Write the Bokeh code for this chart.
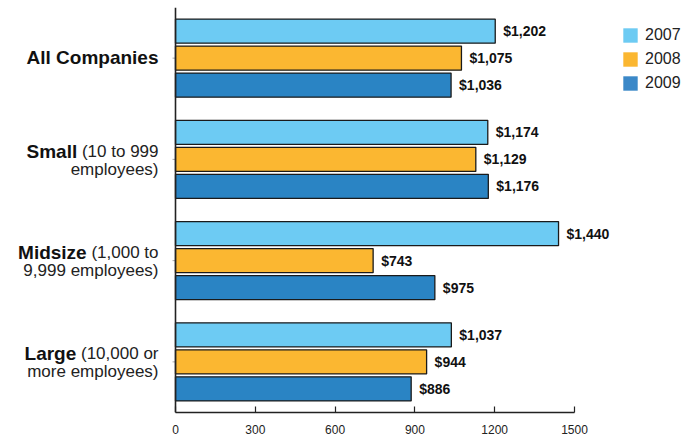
import numpy as np
from bokeh.plotting import figure
from bokeh.models import (Range1d, FixedTicker, LabelSet, ColumnDataSource,
                          Legend, LegendItem, Span)
from bokeh.core.properties import value
from bokeh.embed import file_html
from bokeh.resources import INLINE

# ---- data ----
categories = ["All Companies", "Small", "Midsize", "Large"]
line1_rest = ["", "(10 to 999", "(1,000 to", "(10,000 or"]
line2_text = ["", "employees)", "9,999 employees)", "more employees)"]
years = ["2007", "2008", "2009"]
v2007 = [1202, 1174, 1440, 1037]
v2008 = [1075, 1129, 743, 944]
v2009 = [1036, 1176, 975, 886]
x_ticks = [0, 300, 600, 900, 1200, 1500]

colors = ["#6DCBF3", "#FBB731", "#2A84C4"]
legend_colors = ["#6DCBF3", "#FBB731", "#3B88C8"]

FONT = "Liberation Sans"
W, H = 682, 439
TOP, BOTTOM = 7, 27
PX_PER_UNIT_Y = (H - TOP - BOTTOM) / 4.0
PX_PER_UNIT_X = 399 / 1500.0
X0_PX = 175

p = figure(width=W, height=H, output_backend="svg", toolbar_location=None,
           x_range=Range1d(-X0_PX / PX_PER_UNIT_X, (W - X0_PX) / PX_PER_UNIT_X),
           y_range=Range1d(0, 4), y_axis_location=None,
           min_border_left=0, min_border_right=0, min_border_top=TOP,
           min_border_bottom=BOTTOM)
p.outline_line_color = None
p.xgrid.visible = False
p.ygrid.visible = False
p.background_fill_color = "white"

centers = np.array([3.5, 2.5, 1.5, 0.5])
offsets = [0.267, 0.0, -0.267]
series = [v2007, v2008, v2009]

# y axis line at x = 0, with tiny grey ticks at the group centres
p.add_layout(Span(location=0, dimension="height", line_color="#222222",
                  line_width=1.6))
tick_len = 3 / PX_PER_UNIT_X
p.segment(x0=np.zeros(4) - tick_len, x1=np.zeros(4), y0=centers, y1=centers,
          line_color="#aaaaaa", line_width=1)

for vals, off, col in zip(series, offsets, colors):
    src = ColumnDataSource(dict(y=centers + off, right=vals,
                                lab=[f"${v:,}" for v in vals]))
    p.hbar(y="y", right="right", left=0, height=0.238, source=src,
           fill_color=col, line_color="#1a1a1a", line_width=1.3)
    p.add_layout(LabelSet(x="right", y="y", text="lab", source=src, x_offset=8,
                          text_font=value(FONT), text_font_size="14px",
                          text_font_style="bold", text_color="#111111",
                          text_baseline="middle", text_align="left"))

# legend with outline-free swatches
items = []
for yr, col in zip(years, legend_colors):
    r = p.rect(x=[-5000], y=[-50], width=1, height=1, fill_color=col,
               line_color=None)
    items.append(LegendItem(label=yr, renderers=[r]))
legend = Legend(items=items, location=(621, 320), padding=0, margin=0,
                border_line_color=None, background_fill_alpha=0,
                glyph_width=18, glyph_height=18, label_height=18, spacing=6,
                label_standoff=6, label_text_font=FONT,
                label_text_font_size="16px", label_text_color="#222222")
p.add_layout(legend)

# x axis
xa = p.xaxis[0]
xa.ticker = FixedTicker(ticks=x_ticks)
xa.bounds = (0, 1500)
xa.major_tick_in = 6
xa.major_tick_out = 0
xa.minor_tick_line_color = None
xa.axis_line_width = 1.6
xa.axis_line_color = "#222222"
xa.major_tick_line_color = "#222222"
xa.major_tick_line_width = 1.2
xa.major_label_standoff = 12
xa.major_label_text_font = FONT
xa.major_label_text_font_size = "12px"
xa.major_label_text_color = "#222222"

# category labels (bold name + normal descriptor), drawn as text glyphs
arial_w = {" ": 278, "(": 333, ")": 333, ",": 278, "t": 278, "o": 556, "r": 333,
           "e": 556, "m": 833, "p": 556, "l": 222, "y": 500, "s": 500}
def text_w(s, size):
    return sum(arial_w.get(ch, 556) for ch in s) * size / 1000.0

NORMAL_SIZE = 17
BOLD_SIZE = 19
RIGHT = -17
bold = dict(x=[], y=[], t=[], dx=[])
norm = dict(x=[], y=[], t=[], dx=[])
for name, r1, r2, c in zip(categories, line1_rest, line2_text, centers):
    if not r1:
        bold["x"].append(0); bold["y"].append(c + 1 / PX_PER_UNIT_Y)
        bold["t"].append(name); bold["dx"].append(RIGHT)
        continue
    y1 = c + 8 / PX_PER_UNIT_Y
    y2 = c - 10 / PX_PER_UNIT_Y
    w = text_w(r1, NORMAL_SIZE) + text_w(" ", NORMAL_SIZE)
    norm["x"] += [0, 0]; norm["y"] += [y1, y2]; norm["t"] += [r1, r2]
    norm["dx"] += [RIGHT, RIGHT]
    bold["x"].append(0); bold["y"].append(y1); bold["t"].append(name)
    bold["dx"].append(RIGHT - w)

p.text(x="x", y="y", text="t", x_offset="dx", source=ColumnDataSource(bold),
       text_font=value(FONT), text_font_size=f"{BOLD_SIZE}px",
       text_font_style="bold", text_color="#111111", text_align="right",
       text_baseline="alphabetic")
p.text(x="x", y="y", text="t", x_offset="dx", source=ColumnDataSource(norm),
       text_font=value(FONT), text_font_size=f"{NORMAL_SIZE}px",
       text_color="#222222", text_align="right", text_baseline="alphabetic")

open("out.html", "w").write(file_html(p, INLINE))
